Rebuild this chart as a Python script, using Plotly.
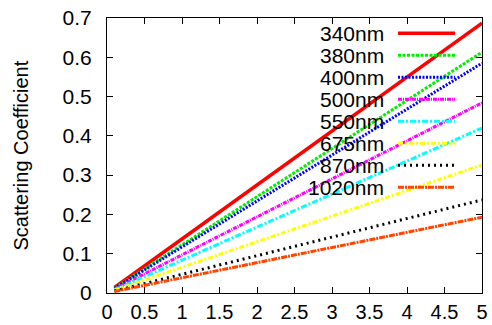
import plotly.graph_objects as go

x_vals = [0.1, 5.0]
names = ["340nm", "380nm", "400nm", "500nm", "550nm", "675nm", "870nm", "1020nm"]
y_340 = [0.014, 0.687]
y_380 = [0.012, 0.613]
y_400 = [0.012, 0.585]
y_500 = [0.010, 0.484]
y_550 = [0.008, 0.420]
y_675 = [0.007, 0.326]
y_870 = [0.005, 0.237]
y_1020 = [0.004, 0.193]
series = [y_340, y_380, y_400, y_500, y_550, y_675, y_870, y_1020]
colors = ["#ff0000", "#00ee00", "#0000ff", "#ff00ff", "#00ffff", "#ffff00", "#000000", "#ff4500"]
dashes = ["solid", "3px,1.5px", "2px,1.5px", "4px,1px,1px,1px", "6px,2px,2px,2px",
          "5px,2px,2px,2px", "2px,4px", "6px,1px,2px,1px"]
widths = [3.5, 3, 3, 3, 3, 3, 3, 3]
x_ticks = [0, 0.5, 1, 1.5, 2, 2.5, 3, 3.5, 4, 4.5, 5]
x_tick_text = ["0", "0.5", "1", "1.5", "2", "2.5", "3", "3.5", "4", "4.5", "5"]
y_ticks = [0, 0.1, 0.2, 0.3, 0.4, 0.5, 0.6, 0.7]
y_tick_text = ["0", "0.1", "0.2", "0.3", "0.4", "0.5", "0.6", "0.7"]

FONT = "Liberation Sans, Arial, Helvetica"

fig = go.Figure()
for n, ys, c, d, w in zip(names, series, colors, dashes, widths):
    fig.add_trace(go.Scatter(x=x_vals, y=ys, mode="lines", name=n,
                             line=dict(color=c, dash=d, width=w), showlegend=False))

# gnuplot-style legend: right-aligned text then line sample
annotations = []
shapes = []
top = 0.945
step = 0.08
for i, (n, c, d, w) in enumerate(zip(names, colors, dashes, widths)):
    yy = top - i * step
    annotations.append(dict(xref="paper", yref="paper", x=0.745, y=yy, text=n,
                            showarrow=False, xanchor="right", yanchor="middle",
                            font=dict(family=FONT, size=21, color="black")))
    shapes.append(dict(type="line", xref="paper", yref="paper", x0=0.776, x1=0.928,
                       y0=yy, y1=yy, line=dict(color=c, dash=d, width=w)))

# y-axis title
annotations.append(dict(xref="paper", yref="paper", x=-0.232, y=0.5, text="Scattering Coefficient",
                        textangle=-90, showarrow=False, xanchor="center", yanchor="middle",
                        font=dict(family=FONT, size=20, color="black")))

fig.update_layout(
    width=492, height=325,
    margin=dict(l=107, r=10, t=18, b=32, autoexpand=False),
    paper_bgcolor="white", plot_bgcolor="white",
    font=dict(family=FONT, size=21, color="black"),
    annotations=annotations, shapes=shapes,
    xaxis=dict(range=[0, 5], tickvals=x_ticks, ticktext=x_tick_text, automargin=False,
               showline=True, mirror="ticks", linecolor="black", linewidth=1,
               ticks="inside", ticklen=6, tickcolor="black", showgrid=False, zeroline=False,
               tickfont=dict(size=20), ticklabelstandoff=1),
    yaxis=dict(range=[0, 0.7], tickvals=y_ticks, ticktext=y_tick_text, automargin=False,
               showline=True, mirror="ticks", linecolor="black", linewidth=1,
               ticks="inside", ticklen=6, tickcolor="black", showgrid=False, zeroline=False,
               tickfont=dict(size=21), ticklabelstandoff=10),
)

fig.write_html("out.html")
